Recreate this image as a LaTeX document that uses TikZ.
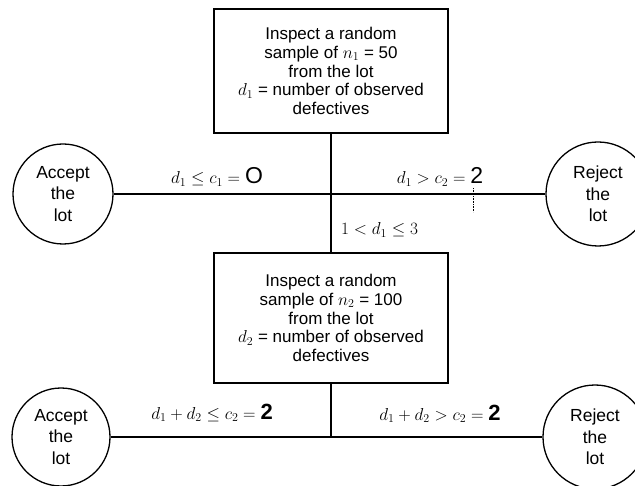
\documentclass[tikz,border=0pt]{standalone}
\usepackage{fontspec}
\setmainfont{Liberation Sans}
\begin{document}
\begin{tikzpicture}[x=1pt,y=-1pt,
  conn/.style={line width=1.3pt},
  boxnode/.style={draw,line width=1.3pt,rectangle,minimum width=234pt,align=center,inner sep=0pt,font=\fontsize{17}{18.8}\selectfont},
  lotnode/.style={draw,line width=1.3pt,circle,minimum size=100pt,inner sep=0pt,align=center,font=\fontsize{17.5}{21.5}\selectfont},
  lbl/.style={font=\fontsize{17.5}{18}\selectfont,inner sep=0pt}]
\newcommand{\handnum}[1]{{\fontsize{23}{23}\selectfont #1}}
\newcommand{\handbold}[1]{{\fontsize{22}{22}\selectfont\bfseries #1}}
\useasboundingbox (0,0) rectangle (635,486);
% boxes
\node[boxnode,minimum height=124pt] (b1) at (331,71)
  {Inspect a random\\sample of $n_1$ = 50\\from the lot\\$d_1$ = number of observed\\defectives};
\node[boxnode,minimum height=130pt] (b2) at (331,318)
  {Inspect a random\\sample of $n_2$ = 100\\from the lot\\$d_2$ = number of observed\\defectives};
% lot circles
\node[lotnode] (a1) at (63,194) {Accept\\the\\lot};
\node[lotnode,minimum size=104pt] (r1) at (598,194) {Reject\\the\\lot};
\node[lotnode,minimum size=98pt] (a2) at (61,437) {Accept\\the\\lot};
\node[lotnode,minimum size=104pt] (r2) at (595,437) {Reject\\the\\lot};
% connectors
\coordinate (j2) at (331,437);
\draw[conn] (a1.east) -- (r1.west);
\draw[conn] (b1.south) -- (b2.north);
\draw[conn] (b2.south) -- (j2);
\draw[conn] (a2.east) -- (r2.west);
\draw[densely dotted,line width=0.6pt] (473,188) -- (473,212);
% labels
\node[lbl] (l1) at (217,177) {$d_1 \le c_1 =$ \handnum{O}};
\node[lbl] (l2) at (440,177) {$d_1 > c_2 =$ \handnum{2}};
\node[lbl,anchor=west] (l3) at (341,230) {$1 < d_1 \le 3$};
\node[lbl] (l4) at (212,413) {$d_1 + d_2 \le c_2 =$ \handbold{2}};
\node[lbl] (l5) at (440,414) {$d_1 + d_2 > c_2 =$ \handbold{2}};
\end{tikzpicture}
\end{document}
